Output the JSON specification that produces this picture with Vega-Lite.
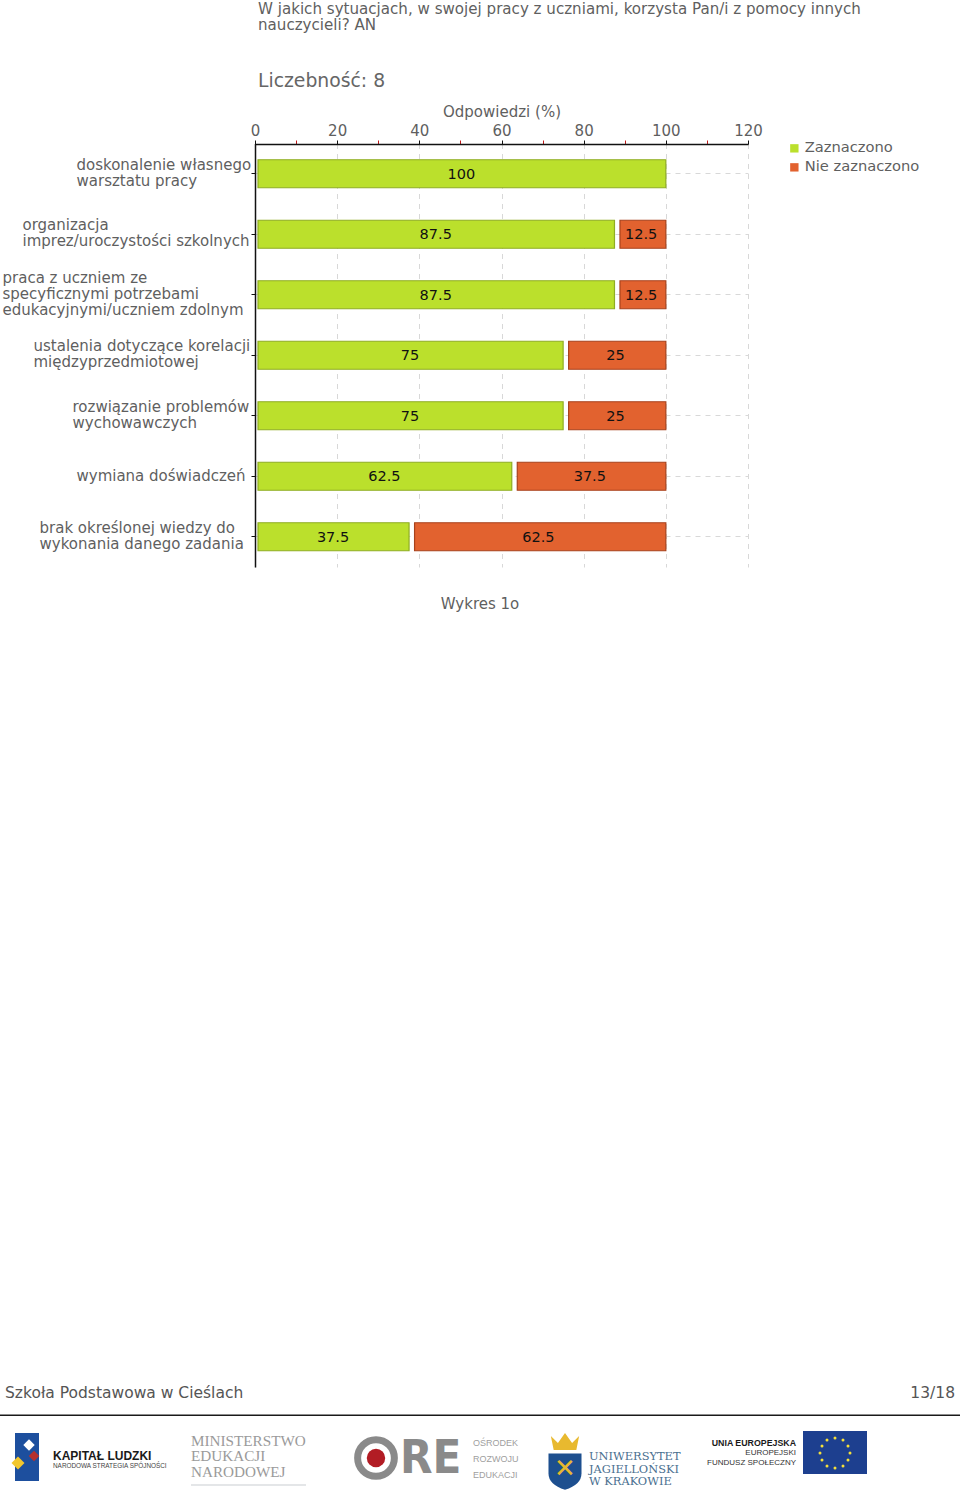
{
"$schema":"https://vega.github.io/schema/vega-lite/v6.json",
"width":960,"height":1503,"autosize":{"type":"none"},"padding":0,"background":"white",
"config":{"font":"DejaVu Sans","view":{"stroke":null},"style":{"guide-title":{"font":"DejaVu Sans"}}},
"title":{"text":["W jakich sytuacjach, w swojej pracy z uczniami, korzysta Pan/i z pomocy innych","nauczycieli? AN"],"subtitle":"Liczebność: 8","anchor":"start","frame":"group","dx":258,"offset":-91,"align":"left","font":"DejaVu Sans","fontSize":15.1,"fontWeight":"normal","color":"#5f5f5f","lineHeight":16,"subtitleFont":"DejaVu Sans","subtitleFontSize":18.8,"subtitleColor":"#666666","subtitlePadding":39},
"datasets":{
"bars":[
{"question":"doskonalenie własnego|warsztatu pracy","series":"Zaznaczono","value":100},
{"question":"organizacja|imprez/uroczystości szkolnych","series":"Zaznaczono","value":87.5},
{"question":"organizacja|imprez/uroczystości szkolnych","series":"Nie zaznaczono","value":12.5},
{"question":"praca z uczniem ze|specyficznymi potrzebami|edukacyjnymi/uczniem zdolnym","series":"Zaznaczono","value":87.5},
{"question":"praca z uczniem ze|specyficznymi potrzebami|edukacyjnymi/uczniem zdolnym","series":"Nie zaznaczono","value":12.5},
{"question":"ustalenia dotyczące korelacji|międzyprzedmiotowej","series":"Zaznaczono","value":75},
{"question":"ustalenia dotyczące korelacji|międzyprzedmiotowej","series":"Nie zaznaczono","value":25},
{"question":"rozwiązanie problemów|wychowawczych","series":"Zaznaczono","value":75},
{"question":"rozwiązanie problemów|wychowawczych","series":"Nie zaznaczono","value":25},
{"question":"wymiana doświadczeń","series":"Zaznaczono","value":62.5},
{"question":"wymiana doświadczeń","series":"Nie zaznaczono","value":37.5},
{"question":"brak określonej wiedzy do|wykonania danego zadania","series":"Zaznaczono","value":37.5},
{"question":"brak określonej wiedzy do|wykonania danego zadania","series":"Nie zaznaczono","value":62.5}
],
"notes":[
{"label":"Wykres 1o","px":480,"py":604,"kind":"caption"},
{"label":"Szkoła Podstawowa w Cieślach","px":5,"py":1393,"kind":"footL"},
{"label":"13/18","px":955,"py":1393,"kind":"footR"},
{"label":"KAPITAŁ LUDZKI","px":53,"py":1456,"kind":"klBig"},
{"label":"NARODOWA STRATEGIA SPÓJNOŚCI","px":53,"py":1466,"kind":"klSmall"},
{"label":"MINISTERSTWO","px":191,"py":1441,"kind":"men"},
{"label":"EDUKACJI","px":191,"py":1456,"kind":"men"},
{"label":"NARODOWEJ","px":191,"py":1472,"kind":"men"},
{"label":"RE","px":400,"py":1459,"kind":"ore"},
{"label":"OŚRODEK","px":473,"py":1443,"kind":"oreSmall"},
{"label":"ROZWOJU","px":473,"py":1459,"kind":"oreSmall"},
{"label":"EDUKACJI","px":473,"py":1475,"kind":"oreSmall"},
{"label":"UNIWERSYTET","px":589,"py":1457,"kind":"uj"},
{"label":"JAGIELLOŃSKI","px":589,"py":1470,"kind":"uj"},
{"label":"W KRAKOWIE","px":589,"py":1482,"kind":"uj"},
{"label":"UNIA EUROPEJSKA","px":796,"py":1443,"kind":"euBold"},
{"label":"EUROPEJSKI","px":796,"py":1453,"kind":"eu"},
{"label":"FUNDUSZ SPOŁECZNY","px":796,"py":1463,"kind":"eu"}
],
"boxes":[
{"name":"footer line","px":0,"px2":960,"py":1414.5,"py2":1416,"color":"#1a1a1a"},
{"name":"kl flag","px":15,"px2":39,"py":1433,"py2":1481,"color":"#1d4f9e"},
{"name":"men rule","px":191,"px2":306,"py":1484.5,"py2":1485.5,"color":"#c9ced2"},
{"name":"eu flag","px":803,"px2":867,"py":1431,"py2":1474,"color":"#1d3f8f"}
],
"dots":[
{"name":"kl white","px":29,"py":1445,"size":130,"shape":"diamond","color":"#ffffff"},
{"name":"kl yellow","px":18,"py":1463,"size":170,"shape":"diamond","color":"#f2c72e"},
{"name":"kl red","px":34,"py":1456,"size":110,"shape":"diamond","color":"#b5302f"},
{"name":"ore red","px":376,"py":1458,"size":340,"shape":"circle","color":"#b21c24"},
{"name":"uj crown","px":565,"py":1443,"size":800,"shape":"M-1,-0.5 L-0.5,0 L0,-0.7 L0.5,0 L1,-0.5 L0.8,0.5 L-0.8,0.5 Z","color":"#e8b92f"},
{"name":"uj shield","px":565,"py":1470,"size":1090,"shape":"M-1,-1 L1,-1 L1,0.2 Q1,0.9 0,1.2 Q-1,0.9 -1,0.2 Z","color":"#1d4f8f"},
{"name":"eu s1","px":835,"py":1438,"size":9,"shape":"circle","color":"#f5e03a"},
{"name":"eu s2","px":843,"py":1440,"size":9,"shape":"circle","color":"#f5e03a"},
{"name":"eu s3","px":848,"py":1446,"size":9,"shape":"circle","color":"#f5e03a"},
{"name":"eu s4","px":850,"py":1453,"size":9,"shape":"circle","color":"#f5e03a"},
{"name":"eu s5","px":848,"py":1460,"size":9,"shape":"circle","color":"#f5e03a"},
{"name":"eu s6","px":843,"py":1466,"size":9,"shape":"circle","color":"#f5e03a"},
{"name":"eu s7","px":835,"py":1468,"size":9,"shape":"circle","color":"#f5e03a"},
{"name":"eu s8","px":827,"py":1466,"size":9,"shape":"circle","color":"#f5e03a"},
{"name":"eu s9","px":822,"py":1460,"size":9,"shape":"circle","color":"#f5e03a"},
{"name":"eu s10","px":820,"py":1453,"size":9,"shape":"circle","color":"#f5e03a"},
{"name":"eu s11","px":822,"py":1446,"size":9,"shape":"circle","color":"#f5e03a"},
{"name":"eu s12","px":827,"py":1440,"size":9,"shape":"circle","color":"#f5e03a"}
]
},
"layer":[
{
"data":{"name":"bars"},
"transform":[
{"calculate":"datum.series==='Zaznaczono'?0:1","as":"order"},
{"stack":"value","groupby":["question"],"sort":[{"field":"order","order":"ascending"}],"as":["start","end"]},
{"calculate":"(datum.start+datum.end)/2","as":"mid"}
],
"encoding":{
"y":{"field":"question","type":"nominal","title":null,"sort":null,
"scale":{"domain":["doskonalenie własnego|warsztatu pracy","organizacja|imprez/uroczystości szkolnych","praca z uczniem ze|specyficznymi potrzebami|edukacyjnymi/uczniem zdolnym","ustalenia dotyczące korelacji|międzyprzedmiotowej","rozwiązanie problemów|wychowawczych","wymiana doświadczeń","brak określonej wiedzy do|wykonania danego zadania"],"range":[143.5,567],"padding":0},
"axis":{"orient":"left","offset":-255,"domainColor":"#111111","domainWidth":1.5,"tickColor":"#111111","tickSize":4,"labelColor":"#5f5f5f","labelFontSize":15,"labelFont":"DejaVu Sans","labelLimit":400,"grid":true,"gridColor":"#d8d8d8","gridDash":[5,5],"labelExpr":"split(datum.label,'|')","labelLineHeight":16,"labelAlign":"left",
"labelPadding":{"condition":[
{"test":"slice(datum.value,0,1)==='d'","value":175},
{"test":"slice(datum.value,0,1)==='o'","value":229},
{"test":"slice(datum.value,0,1)==='p'","value":249},
{"test":"slice(datum.value,0,1)==='u'","value":218},
{"test":"slice(datum.value,0,1)==='r'","value":179},
{"test":"slice(datum.value,0,1)==='w'","value":175}
],"value":212},
"labelOffset":{"condition":[
{"test":"slice(datum.value,0,1)==='p'","value":-17},
{"test":"slice(datum.value,0,1)==='w'","value":0}
],"value":-9}}
}
},
"layer":[
{"transform":[{"filter":"datum.series==='Zaznaczono'"}],
"mark":{"type":"bar","size":28,"stroke":"#8fad22","strokeWidth":1.2,"xOffset":3,"x2Offset":0},
"encoding":{
"x":{"field":"start","type":"quantitative","title":"Odpowiedzi (%)",
"scale":{"domain":[0,120],"range":[255,748],"nice":false,"zero":false},
"axis":{"orient":"top","offset":-144,"values":[0,10,20,30,40,50,60,70,80,90,100,110,120],"labelExpr":"datum.value%20===0?datum.label:''","labelColor":"#5f5f5f","labelFontSize":15,"labelFont":"DejaVu Sans","labelPadding":2,"labelFlush":false,"labelOverlap":false,
"titleFont":"DejaVu Sans","titleFontSize":15,"titleFontWeight":"normal","titleColor":"#5f5f5f","titlePadding":4,
"domainColor":"#111111","domainWidth":1.5,
"tickColor":{"condition":{"test":"datum.value%20===0","value":"#111111"},"value":"#c01818"},
"tickSize":4,
"grid":true,"gridColor":"#d8d8d8","gridDash":[5,5],
"gridOpacity":{"condition":{"test":"datum.value%20===0","value":1},"value":0}}},
"x2":{"field":"end"},
"color":{"field":"series","type":"nominal","title":null,
"scale":{"domain":["Zaznaczono","Nie zaznaczono"],"range":["#bbe02c","#e2622f"]},
"legend":{"orient":"none","legendX":787,"legendY":141,"symbolType":"square","symbolSize":70,"symbolStrokeWidth":0,"labelFont":"DejaVu Sans","labelFontSize":14.7,"labelColor":"#5f5f5f","labelOffset":3,"rowPadding":3,"labelLimit":200}}
}},
{"transform":[{"filter":"datum.series==='Nie zaznaczono'"}],
"mark":{"type":"bar","size":28,"stroke":"#a8421c","strokeWidth":1.2,"xOffset":5.5,"x2Offset":0},
"encoding":{
"x":{"field":"start","type":"quantitative"},
"x2":{"field":"end"},
"color":{"field":"series","type":"nominal"}
}},
{"mark":{"type":"text","font":"DejaVu Sans","fontSize":14.5,"color":"#111111","dx":1,"dy":1},
"encoding":{
"x":{"field":"mid","type":"quantitative"},
"text":{"field":"value","type":"quantitative"}
}}
]
},
{
"encoding":{},
"layer":[
{"data":{"name":"boxes"},"mark":{"type":"rect"},
"encoding":{
"x":{"field":"px","type":"quantitative","axis":null,"scale":{"domain":[0,960],"range":[0,960],"nice":false,"zero":false}},
"x2":{"field":"px2"},
"y":{"field":"py","type":"quantitative","axis":null,"scale":{"domain":[0,1503],"range":[0,1503],"nice":false,"zero":false}},
"y2":{"field":"py2"},
"fill":{"field":"color","type":"nominal","scale":null,"legend":null}
}},
{"data":{"name":"dots"},"mark":{"type":"point","filled":true,"opacity":1},
"encoding":{
"x":{"field":"px","type":"quantitative","axis":null},
"y":{"field":"py","type":"quantitative","axis":null},
"size":{"field":"size","type":"quantitative","scale":null,"legend":null},
"shape":{"field":"shape","type":"nominal","scale":null,"legend":null},
"fill":{"field":"color","type":"nominal","scale":null,"legend":null}
}},
{"data":{"values":[{"name":"ore ring","px":376,"py":1458}]},"mark":{"type":"point","filled":false,"size":1350,"stroke":"#8a8a8a","strokeWidth":7,"opacity":1},
"encoding":{"x":{"field":"px","type":"quantitative","axis":null},"y":{"field":"py","type":"quantitative","axis":null}}},
{"data":{"values":[{"name":"uj cross","px":565,"py":1469,"label":"✕"}]},"mark":{"type":"text","fontSize":26,"color":"#e8b92f","font":"DejaVu Sans"},
"encoding":{"x":{"field":"px","type":"quantitative","axis":null},"y":{"field":"py","type":"quantitative","axis":null},"text":{"field":"label"}}},
{"data":{"name":"notes"},"transform":[{"filter":"datum.kind==='caption'"}],"mark":{"type":"text","align":"center","font":"DejaVu Sans","fontSize":15,"color":"#5f5f5f"},
"encoding":{"x":{"field":"px","type":"quantitative","axis":null},"y":{"field":"py","type":"quantitative","axis":null},"text":{"field":"label"}}},
{"data":{"name":"notes"},"transform":[{"filter":"datum.kind==='footL'"}],"mark":{"type":"text","align":"left","font":"DejaVu Sans","fontSize":15.5,"color":"#555555"},
"encoding":{"x":{"field":"px","type":"quantitative","axis":null},"y":{"field":"py","type":"quantitative","axis":null},"text":{"field":"label"}}},
{"data":{"name":"notes"},"transform":[{"filter":"datum.kind==='footR'"}],"mark":{"type":"text","align":"right","font":"DejaVu Sans","fontSize":15.5,"color":"#555555"},
"encoding":{"x":{"field":"px","type":"quantitative","axis":null},"y":{"field":"py","type":"quantitative","axis":null},"text":{"field":"label"}}},
{"data":{"name":"notes"},"transform":[{"filter":"datum.kind==='klBig'"}],"mark":{"type":"text","align":"left","font":"Liberation Sans","fontWeight":"bold","fontSize":12,"color":"#1a1a1a"},
"encoding":{"x":{"field":"px","type":"quantitative","axis":null},"y":{"field":"py","type":"quantitative","axis":null},"text":{"field":"label"}}},
{"data":{"name":"notes"},"transform":[{"filter":"datum.kind==='klSmall'"}],"mark":{"type":"text","align":"left","font":"Liberation Sans","fontSize":6.4,"color":"#444444"},
"encoding":{"x":{"field":"px","type":"quantitative","axis":null},"y":{"field":"py","type":"quantitative","axis":null},"text":{"field":"label"}}},
{"data":{"name":"notes"},"transform":[{"filter":"datum.kind==='men'"}],"mark":{"type":"text","align":"left","font":"Liberation Serif","fontSize":15.2,"color":"#9a9a9a"},
"encoding":{"x":{"field":"px","type":"quantitative","axis":null},"y":{"field":"py","type":"quantitative","axis":null},"text":{"field":"label"}}},
{"data":{"name":"notes"},"transform":[{"filter":"datum.kind==='ore'"}],"mark":{"type":"text","align":"left","font":"DejaVu Sans Condensed","fontWeight":"bold","fontSize":47,"color":"#8a8a8a"},
"encoding":{"x":{"field":"px","type":"quantitative","axis":null},"y":{"field":"py","type":"quantitative","axis":null},"text":{"field":"label"}}},
{"data":{"name":"notes"},"transform":[{"filter":"datum.kind==='oreSmall'"}],"mark":{"type":"text","align":"left","font":"Liberation Sans","fontSize":9,"color":"#a0a0a0"},
"encoding":{"x":{"field":"px","type":"quantitative","axis":null},"y":{"field":"py","type":"quantitative","axis":null},"text":{"field":"label"}}},
{"data":{"name":"notes"},"transform":[{"filter":"datum.kind==='uj'"}],"mark":{"type":"text","align":"left","font":"DejaVu Serif","fontSize":11.4,"color":"#4a6f8f"},
"encoding":{"x":{"field":"px","type":"quantitative","axis":null},"y":{"field":"py","type":"quantitative","axis":null},"text":{"field":"label"}}},
{"data":{"name":"notes"},"transform":[{"filter":"datum.kind==='euBold'"}],"mark":{"type":"text","align":"right","font":"Liberation Sans","fontWeight":"bold","fontSize":8.8,"color":"#1a1a1a"},
"encoding":{"x":{"field":"px","type":"quantitative","axis":null},"y":{"field":"py","type":"quantitative","axis":null},"text":{"field":"label"}}},
{"data":{"name":"notes"},"transform":[{"filter":"datum.kind==='eu'"}],"mark":{"type":"text","align":"right","font":"Liberation Sans","fontSize":8,"color":"#333333"},
"encoding":{"x":{"field":"px","type":"quantitative","axis":null},"y":{"field":"py","type":"quantitative","axis":null},"text":{"field":"label"}}}
]
}
],
"resolve":{"scale":{"x":"independent","y":"independent"},"axis":{"x":"independent","y":"independent"}}
}
